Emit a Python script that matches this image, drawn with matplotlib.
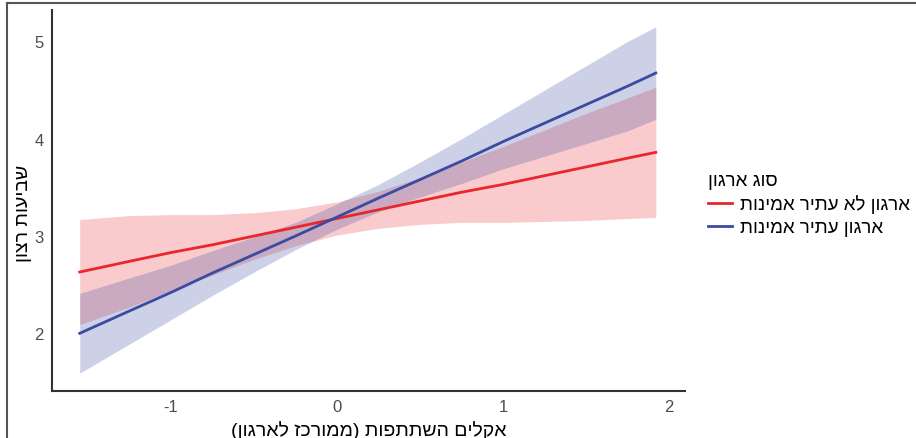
import numpy as np
import matplotlib.pyplot as plt
from matplotlib.lines import Line2D

plt.rcParams['font.family'] = ['Liberation Sans', 'DejaVu Sans']
plt.rcParams['axes.unicode_minus'] = False


def rtl(s):
    # matplotlib has no bidi, so flip the string and mirror the brackets
    s = s[::-1]
    return s.translate(str.maketrans('()', ')('))


x_pts = [-1.55, -1.25, -1.0, -0.75, -0.5, -0.25, 0.0, 0.25,
         0.5, 0.75, 1.0, 1.25, 1.5, 1.75, 1.92]

red_fit = [2.63, 2.74, 2.83, 2.91, 3.00, 3.09, 3.18, 3.27,
           3.36, 3.45, 3.53, 3.62, 3.71, 3.80, 3.86]
red_lo = [2.09, 2.27, 2.44, 2.60, 2.76, 2.90, 3.01, 3.08,
          3.12, 3.14, 3.14, 3.15, 3.16, 3.18, 3.19]
red_hi = [3.17, 3.21, 3.22, 3.22, 3.24, 3.28, 3.35, 3.46,
          3.60, 3.76, 3.92, 4.09, 4.26, 4.42, 4.53]

blue_fit = [2.00, 2.23, 2.42, 2.62, 2.81, 3.00, 3.195, 3.39,
            3.58, 3.77, 3.97, 4.16, 4.35, 4.54, 4.675]
blue_lo = [1.59, 1.89, 2.14, 2.39, 2.63, 2.86, 3.07, 3.25,
           3.40, 3.54, 3.69, 3.82, 3.95, 4.08, 4.20]
blue_hi = [2.41, 2.57, 2.70, 2.85, 2.99, 3.14, 3.33, 3.53,
           3.76, 4.00, 4.25, 4.50, 4.75, 5.00, 5.15]

group_names = ['ארגון לא עתיר אמינות', 'ארגון עתיר אמינות']
legend_title = 'סוג ארגון'
x_label = 'אקלים השתתפות (ממורכז לארגון)'
y_label = 'שביעות רצון'

red = '#E8262B'
blue = '#3A4BA0'

fig = plt.figure(figsize=(9.16, 4.39), dpi=100)
ax = fig.add_axes([52 / 916, 1 - 392 / 439, (685 - 52) / 916, (392 - 11) / 439])

ax.fill_between(x_pts, red_lo, red_hi, color=red, alpha=0.24, linewidth=0)
ax.fill_between(x_pts, blue_lo, blue_hi, color=blue, alpha=0.25, linewidth=0)
ax.plot(x_pts, red_fit, color=red, lw=2, label=rtl(group_names[0]))
ax.plot(x_pts, blue_fit, color=blue, lw=2, label=rtl(group_names[1]))

ax.set_xlim(-1.717, 2.096)
ax.set_ylim(1.407, 5.323)
ax.set_xticks([-1, 0, 1, 2])
ax.set_yticks([2, 3, 4, 5])
ax.tick_params(length=0, labelsize=12, labelcolor='#4D4D4D', pad=6)

for side in ['top', 'right']:
    ax.spines[side].set_visible(False)
for side in ['left', 'bottom']:
    ax.spines[side].set_color('#333333')
    ax.spines[side].set_linewidth(1.5)

ax.set_xlabel(rtl(x_label), fontsize=14, labelpad=4)
ax.set_ylabel(rtl(y_label), fontsize=14)
ax.yaxis.set_label_coords(-0.032, 0.47)

leg = fig.legend(loc='upper left', bbox_to_anchor=(691 / 916, 1 - 156 / 439),
                 frameon=False, fontsize=13.5, title=rtl(legend_title),
                 title_fontsize=13.5, handlelength=1.3, handletextpad=0.4,
                 labelspacing=0.3, alignment='left')

# border of the original screenshot
fig.add_artist(Line2D([7 / 916, 7 / 916], [0, 1 - 4 / 439], color='#555555', lw=1.5))
fig.add_artist(Line2D([7 / 916, 1], [1 - 4 / 439, 1 - 4 / 439], color='#555555', lw=1.5))

fig.savefig('out.png', dpi=100)
